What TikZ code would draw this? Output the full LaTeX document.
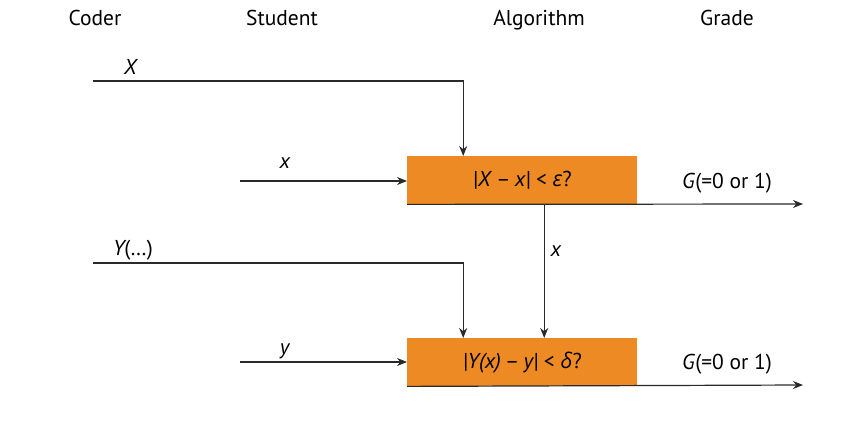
\documentclass[tikz,border=0pt]{standalone}
\usepackage{fontspec}
\setmainfont{PT Sans}
\newfontfamily\grk{Open Sans}
\usetikzlibrary{positioning,arrows.meta,calc}
\definecolor{boxorange}{HTML}{EE8A24}
\definecolor{linegray}{HTML}{2A2A2A}
\newcommand{\vx}[1]{\textit{#1}}
\newcommand{\mn}{\hspace{0.2em}--\hspace{0.2em}}

\begin{document}
\begin{tikzpicture}[
    x=1pt, y=-1pt,
    every node/.style={font=\fontsize{21.5}{24}\selectfont, inner sep=0pt},
    algbox/.style={fill=boxorange, minimum width=230pt, minimum height=48pt, anchor=north west},
    arrow/.style={-{Stealth[length=10pt,width=8pt]}, draw=linegray, line width=1.2pt},
    lbl/.style={anchor=base}
  ]
  \useasboundingbox (0,0) rectangle (858,427);

  % --- column headings ---
  \node[lbl] (hcoder) at (95,26) {Coder};
  \node[lbl] (hstudent) at (282,26) {Student};
  \node[lbl] (halgo) at (539,26) {Algorithm};
  \node[lbl] (hgrade) at (727,26) {Grade};

  % --- algorithm boxes ---
  \node[algbox] (chk1) at (407,156) {\vx{|X}\mn\vx{x|} < {\grk\itshape ε}?};
  \node[algbox] (chk2) at (407,338) {\vx{|Y(x)}\mn\vx{y|} < {\grk\itshape δ}?};

  % --- input points ---
  \coordinate (cX) at (93,81);
  \coordinate (cx) at (240,181);
  \coordinate (cY) at (93,263);
  \coordinate (cy) at (240,362);
  \coordinate (g1) at (803,204);
  \coordinate (g2) at (803,385);

  % --- labels ---
  \node[lbl] (lX) at (131,75) {\vx{X}};
  \node[lbl] (lx) at (285,169) {\vx{x}};
  \node[lbl] (lY) at (133,255) {\vx{Y}\hspace{-0.1em}(…)};
  \node[lbl] (ly) at (285,354) {\vx{y}};
  \node[lbl] (lxx) at (556,257) {\vx{x}};
  \node[lbl] (lg1) at (727,189) {\vx{G}(=0 or 1)};
  \node[lbl] (lg2) at (727,369) {\vx{G}(=0 or 1)};

  % --- connectors ---
  \draw[arrow] (cX) -| ([xshift=-59pt]chk1.north);
  \draw[arrow] (cx) -- (cx -| chk1.west);
  \draw[arrow] (chk1.south west) -- (g1);
  \draw[arrow] ([xshift=22pt]chk1.south) -- ([xshift=22pt]chk2.north);
  \draw[arrow] (cY) -| ([xshift=-59pt]chk2.north);
  \draw[arrow] (cy) -- (cy -| chk2.west);
  \draw[arrow] (chk2.south west) -- (g2);

\end{tikzpicture}
\end{document}
